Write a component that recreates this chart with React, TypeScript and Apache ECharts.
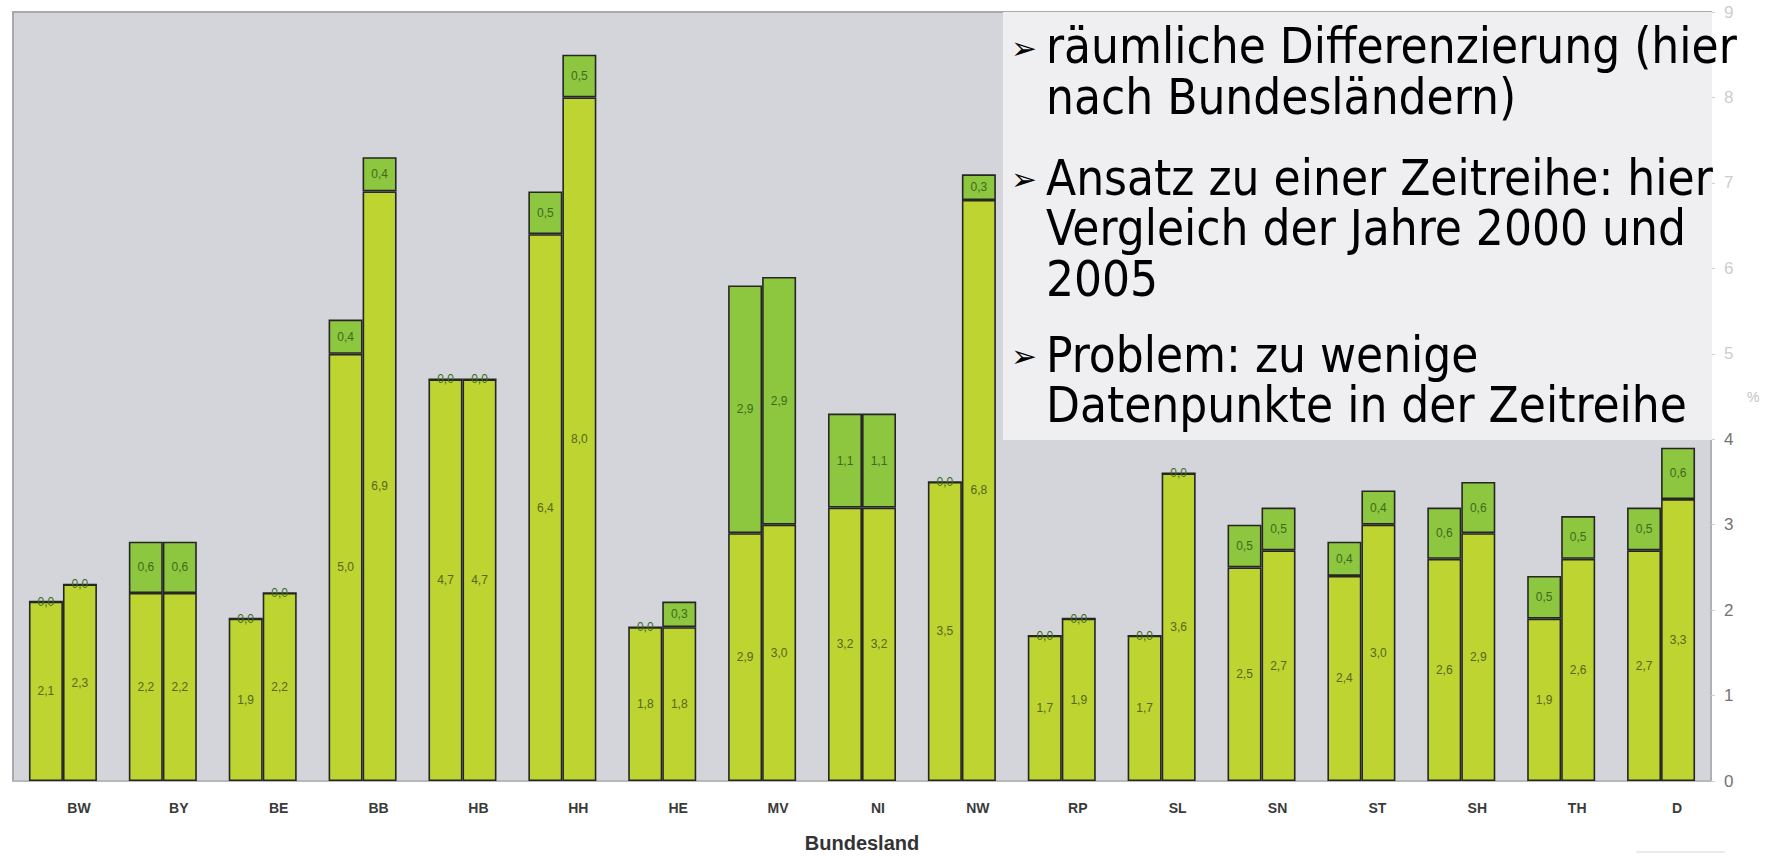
import React, { useEffect, useRef } from "react";
import * as echarts from "echarts";

const categories = ["BW", "BY", "BE", "BB", "HB", "HH", "HE", "MV", "NI", "NW", "RP", "SL", "SN", "ST", "SH", "TH", "D"];
const lower2000 = [2.1, 2.2, 1.9, 5.0, 4.7, 6.4, 1.8, 2.9, 3.2, 3.5, 1.7, 1.7, 2.5, 2.4, 2.6, 1.9, 2.7];
const upper2000 = [0.0, 0.6, 0.0, 0.4, 0.0, 0.5, 0.0, 2.9, 1.1, 0.0, 0.0, 0.0, 0.5, 0.4, 0.6, 0.5, 0.5];
const lower2005 = [2.3, 2.2, 2.2, 6.9, 4.7, 8.0, 1.8, 3.0, 3.2, 6.8, 1.9, 3.6, 2.7, 3.0, 2.9, 2.6, 3.3];
const upper2005 = [0.0, 0.6, 0.0, 0.4, 0.0, 0.5, 0.3, 2.9, 1.1, 0.3, 0.0, 0.0, 0.5, 0.4, 0.6, 0.5, 0.6];
const bullets = [
  ["räumliche Differenzierung (hier", "nach Bundesländern)"],
  ["Ansatz zu einer Zeitreihe: hier", "Vergleich der Jahre 2000 und", "2005"],
  ["Problem: zu wenige", "Datenpunkte in der Zeitreihe"],
];

const LOWER = "#bdd431";
const UPPER = "#8dc63f";
const BORDER = "#262626";

function fmt(v: number) {
  return v.toFixed(1).replace(".", ",");
}

export default function App() {
  const ref = useRef<HTMLDivElement>(null);
  useEffect(() => {
    if (!ref.current) return;
    const chart = echarts.init(ref.current, null, { renderer: "svg" });
    const mkSeries = (name: string, data: number[], stack: string, color: string, labelColor: string) => ({
      name,
      type: "bar",
      stack,
      data,
      barWidth: 34,
      barGap: "0%",
      itemStyle: { color, borderColor: BORDER, borderWidth: 1.6 },
      label: {
        show: true,
        position: "inside",
        formatter: (p: any) => fmt(p.value),
        fontSize: 12,
        fontFamily: "Liberation Sans Narrow, Liberation Sans, sans-serif",
        color: labelColor,
      },
    });
    const LH = 50.5;
    const firstCenters = [46.5, 178, 355];
    const textX = 1046;
    const graphics: any[] = [
      {
        type: "rect",
        shape: { x: 1003, y: 12, width: 709, height: 428 },
        style: { fill: "#efeff1" },
        z: 100,
      },
      {
        type: "line",
        shape: { x1: 1636, y1: 852, x2: 1725, y2: 852 },
        style: { stroke: "#d8d8d8", lineWidth: 1 },
      },
    ];
    bullets.forEach((lines, i) => {
      graphics.push({
        type: "text",
        z: 101,
        style: {
          text: lines.join("\n"),
          x: textX,
          y: firstCenters[i] - LH / 2,
          fontSize: 49,
          lineHeight: LH,
          fontFamily: "DejaVu Sans Condensed",
          fill: "#000",
          verticalAlign: "top",
          align: "left",
        },
      });
      graphics.push({
        type: "text",
        z: 101,
        style: {
          text: "➢",
          x: 1011,
          y: firstCenters[i] + 1,
          fontSize: 31,
          fontFamily: "DejaVu Sans",
          fill: "#000",
          verticalAlign: "middle",
          align: "left",
        },
      });
    });

    chart.setOption({
      animation: false,
      backgroundColor: "#ffffff",
      grid: {
        left: 13,
        right: 56,
        top: 12,
        bottom: 75,
        outerBoundsMode: "none",
        containLabel: false,
        show: true,
        backgroundColor: "#d4d5da",
        borderColor: "#a9a9ab",
        borderWidth: 2,
      },
      xAxis: {
        type: "category",
        data: categories,
        axisLine: { show: true, lineStyle: { color: "#b8b8ba", width: 2 } },
        axisTick: { show: false },
        axisLabel: {
          fontSize: 14,
          fontWeight: "bold",
          fontFamily: "Liberation Sans, Arial, sans-serif",
          color: "#3a3a3a",
          margin: 20,
          padding: [0, 0, 0, 32],
        },
        name: "Bundesland",
        nameLocation: "middle",
        nameGap: 52,
        nameTextStyle: {
          fontSize: 20,
          fontWeight: "bold",
          fontFamily: "Liberation Sans, Arial, sans-serif",
          color: "#333",
        },
      },
      yAxis: {
        type: "value",
        position: "right",
        min: 0,
        max: 9,
        interval: 1,
        splitLine: { show: false },
        axisLine: { show: true, lineStyle: { color: "#b0b0b2", width: 2 } },
        axisTick: { show: true, length: 4, lineStyle: { color: "#cfcfcf" } },
        axisLabel: {
          fontSize: 17,
          fontFamily: "Liberation Sans, Arial, sans-serif",
          margin: 13,
          color: (v: any) => (Number(v) >= 5 ? "#cdcdcd" : "#737373"),
        },
        name: "%",
        nameLocation: "middle",
        nameGap: 36,
        nameRotate: 0,
        nameTextStyle: { fontSize: 14, color: "#c4c4c4", fontFamily: "Liberation Sans, Arial, sans-serif" },
      },
      series: [
        mkSeries("2000 a", lower2000, "y2000", LOWER, "#56661d"),
        mkSeries("2000 b", upper2000, "y2000", UPPER, "#3d6b1b"),
        mkSeries("2005 a", lower2005, "y2005", LOWER, "#56661d"),
        mkSeries("2005 b", upper2005, "y2005", UPPER, "#3d6b1b"),
      ],
      graphic: graphics,
    });
    return () => chart.dispose();
  }, []);
  return (
    <div
      ref={ref}
      style={{ position: "fixed", left: 0, top: 0, width: 1767, height: 856 }}
    />
  );
}
